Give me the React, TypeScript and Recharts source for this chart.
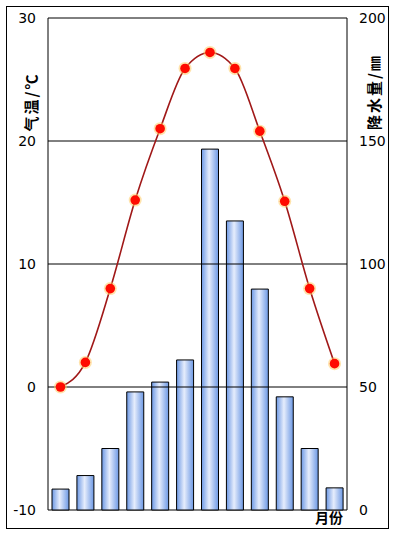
import React from 'react';
import {
  ComposedChart, Bar, Line, XAxis, YAxis, ReferenceLine, ReferenceArea, Label,
} from 'recharts';

const months = ['1月', '2月', '3月', '4月', '5月', '6月', '7月', '8月', '9月', '10月', '11月', '12月'];
const temperature = [0, 2, 8, 15.2, 21, 25.9, 27.2, 25.9, 20.8, 15.1, 8, 1.9];
const precipitation = [8.5, 14, 25, 48, 52, 61, 146.7, 117.5, 89.8, 46, 25, 9];
const tempTicks = [-10, 0, 10, 20, 30];
const precTicks = [0, 50, 100, 150, 200];
const gridTemps = [0, 10, 20];

const data = months.map((m, i) => ({ month: m, temp: temperature[i], prec: precipitation[i] }));

const tickStyle = { fontFamily: '"DejaVu Sans", sans-serif', fontSize: 14, fill: '#000' };
const titleFont = '"Noto Sans CJK SC", sans-serif';

const Titles = (props: any) => {
  const vb = props.viewBox || { x: 0, y: 0, width: 0, height: 0 };
  const lx = vb.x - 18;
  const ly = vb.y + 84;
  const rx = vb.x + vb.width + 26;
  const ry = vb.y + 74;
  return (
    <g>
      <text x={lx} y={ly} transform={`rotate(-90 ${lx} ${ly})`} textAnchor="middle" dominantBaseline="central"
        fontFamily={titleFont} fontSize={15} fontWeight="bold" letterSpacing={2} fill="#000">气温/℃</text>
      <text x={rx} y={ry} transform={`rotate(-90 ${rx} ${ry})`} textAnchor="middle" dominantBaseline="central"
        fontFamily={titleFont} fontSize={15} fontWeight="bold" letterSpacing={2} fill="#000">降水量/㎜</text>
      <text x={vb.x + vb.width - 4} y={vb.y + vb.height + 13} textAnchor="end"
        fontFamily={titleFont} fontSize={14} fontWeight="bold" fill="#000">月份</text>
    </g>
  );
};

const Dot = (props: any) => {
  const { cx, cy } = props;
  if (cx == null || cy == null) return null;
  return (
    <g>
      <circle cx={cx} cy={cy} r={6.5} fill="#ffcc66" opacity={0.55} />
      <circle cx={cx} cy={cy} r={4.8} fill="#ff0a00" />
    </g>
  );
};

export default function App() {
  return (
    <div style={{ position: 'absolute', left: 0, top: 0, width: 396, height: 535, background: '#fff' }}>
      <div style={{
        position: 'absolute', left: 6, top: 6, width: 383, height: 523,
        border: '1px solid #000', boxSizing: 'border-box', pointerEvents: 'none',
      }} />
      <ComposedChart width={396} height={535} data={data}
        margin={{ top: 18, right: 0, bottom: 25, left: 0 }} barCategoryGap={0}>
        <defs>
          <linearGradient id="barGrad" x1="0" y1="0" x2="1" y2="0">
            <stop offset="0%" stopColor="#6c98e4" />
            <stop offset="45%" stopColor="#e6edfc" />
            <stop offset="100%" stopColor="#6c98e4" />
          </linearGradient>
        </defs>
        <XAxis dataKey="month" hide />
        <YAxis yAxisId="left" width={48} domain={[-10, 30]} ticks={tempTicks} interval={0}
          axisLine={false} tickLine={false} tickSize={0} tickMargin={12} tick={tickStyle} />
        <YAxis yAxisId="right" orientation="right" width={49} domain={[0, 200]} ticks={precTicks} interval={0}
          axisLine={false} tickLine={false} tickSize={0} tickMargin={12} tick={{ ...tickStyle, textAnchor: 'start' }} />
        {gridTemps.map((t) => (
          <ReferenceLine key={t} yAxisId="left" y={t} stroke="#000" strokeWidth={1} />
        ))}
        <Bar yAxisId="right" dataKey="prec" barSize={17} fill="url(#barGrad)" stroke="#000" strokeWidth={1}
          isAnimationActive={false} />
        <Line yAxisId="left" dataKey="temp" type="monotone" stroke="#a01818" strokeWidth={1.6}
          dot={<Dot />} activeDot={false} isAnimationActive={false} />
        <ReferenceArea yAxisId="left" y1={-10} y2={30} fill="none" fillOpacity={0} stroke="#000" strokeWidth={1}
          ifOverflow="visible">
          <Label content={<Titles />} />
        </ReferenceArea>
      </ComposedChart>
    </div>
  );
}
